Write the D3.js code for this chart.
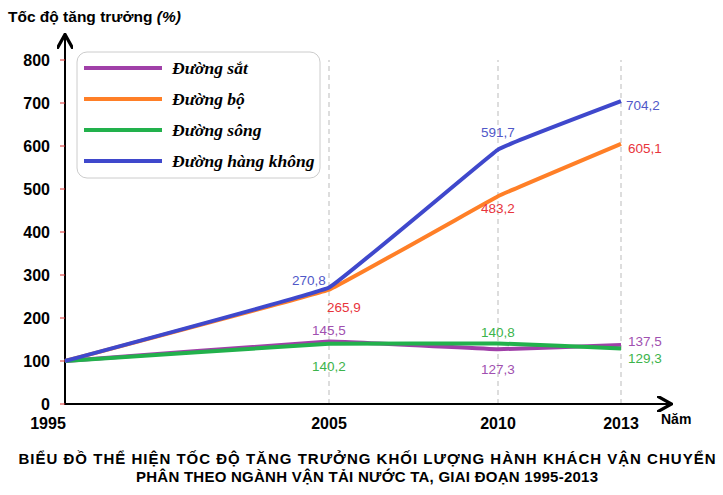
<!DOCTYPE html>
<html><head><meta charset="utf-8">
<script src="https://cdn.jsdelivr.net/npm/d3@7"></script>
<style>body{margin:0;background:#fff}svg{font-family:Arial,"Liberation Sans",sans-serif}</style>
</head><body><svg width="723" height="495"></svg>
<script>
years = [1995, 2005, 2010, 2013]
duongSat = [100, 145.5, 127.3, 137.5]
duongBo = [100, 265.9, 483.2, 605.1]
duongSong = [100, 140.2, 140.8, 129.3]
hangKhong = [100, 270.8, 591.7, 704.2]
yTicks = [0, 100, 200, 300, 400, 500, 600, 700, 800]

const svg = d3.select('svg')
const x = d3.scaleLinear().domain(years).range([65, 329, 498, 621])
const y = d3.scaleLinear().domain([0, 800]).range([404, 60])

// dashed year guides
years.slice(1).forEach(yr => {
  svg.append('line').attr('x1', x(yr)).attr('x2', x(yr)).attr('y1', y(0)).attr('y2', y(800))
    .attr('stroke', '#bbb').attr('stroke-dasharray', '5,4')
})

// axes
svg.append('defs').append('marker').attr('id', 'arr').attr('viewBox', '0 0 10 10')
  .attr('refX', 8).attr('refY', 5).attr('markerWidth', 8).attr('markerHeight', 8).attr('orient', 'auto')
  .append('path').attr('d', 'M0,0 L9,5 L0,10').attr('fill', 'none').attr('stroke', '#000').attr('stroke-width', 2)
svg.append('line').attr('x1', 65).attr('x2', 65).attr('y1', 405).attr('y2', 36)
  .attr('stroke', '#000').attr('stroke-width', 2).attr('marker-end', 'url(#arr)')
svg.append('line').attr('x1', 64).attr('x2', 670).attr('y1', 404).attr('y2', 404)
  .attr('stroke', '#000').attr('stroke-width', 2).attr('marker-end', 'url(#arr)')

yTicks.forEach(t => {
  svg.append('line').attr('x1', 60).attr('x2', 65).attr('y1', y(t)).attr('y2', y(t)).attr('stroke', '#d33')
  svg.append('text').attr('x', 50).attr('y', y(t) + 6).attr('text-anchor', 'end')
    .attr('font-size', 16).attr('font-weight', 'bold').text(t)
})
years.forEach(yr => {
  svg.append('text').attr('x', x(yr) - (yr === 1995 ? 17 : 0)).attr('y', 429).attr('text-anchor', 'middle')
    .attr('font-size', 16).attr('font-weight', 'bold').text(yr)
})
svg.append('text').attr('x', 661).attr('y', 424).attr('font-size', 14).attr('font-weight', 'bold').text('Năm')
svg.append('text').attr('x', 8).attr('y', 22).attr('font-size', 15.5).attr('font-weight', 'bold')
  .text('Tốc độ tăng trưởng ').append('tspan').attr('font-style', 'italic').text('(%)')

const series = [
  {name: 'Đường sắt', vals: duongSat, color: '#a040a8', lab: '#a050b0'},
  {name: 'Đường bộ', vals: duongBo, color: '#ff7f27', lab: '#e8343c'},
  {name: 'Đường sông', vals: duongSong, color: '#22b14c', lab: '#3cb44b'},
  {name: 'Đường hàng không', vals: hangKhong, color: '#3f48cc', lab: '#5058c8'}
]
const line = d3.line().x((d, i) => x(years[i])).y(d => y(d)).curve(d3.curveCardinal.tension(0.85))
series.forEach(s => {
  svg.append('path').attr('d', line(s.vals)).attr('fill', 'none')
    .attr('stroke', s.color).attr('stroke-width', 4)
})

// value labels [series, index, dx, dy]
const labs = [[3,1,-20,-8],[1,1,15,17],[0,1,0,-11],[2,1,0,22],[3,2,0,-18],[1,2,0,12],[2,2,0,-11],[0,2,0,20],
  [3,3,22,4],[1,3,24,4],[0,3,24,-4],[2,3,24,10]]
labs.forEach(([si, i, dx, dy]) => {
  const s = series[si]
  svg.append('text').attr('x', x(years[i]) + dx).attr('y', y(s.vals[i]) + dy + 5)
    .attr('text-anchor', 'middle').attr('font-size', 13.5).attr('fill', s.lab)
    .text(d3.format('.1f')(s.vals[i]).replace('.', ','))
})

// legend
svg.append('rect').attr('x', 77).attr('y', 52).attr('width', 243).attr('height', 126).attr('rx', 10)
  .attr('fill', '#fff').attr('stroke', '#ccc')
series.forEach((s, i) => {
  const ly = 68 + i * 31
  svg.append('line').attr('x1', 84).attr('x2', 162).attr('y1', ly).attr('y2', ly)
    .attr('stroke', s.color).attr('stroke-width', 4)
  svg.append('text').attr('x', 172).attr('y', ly + 6).attr('font-family', '"Liberation Serif",serif')
    .attr('font-size', 17.5).attr('font-weight', 'bold').attr('font-style', 'italic').text(s.name)
})

svg.append('text').attr('x', 367).attr('y', 464).attr('text-anchor', 'middle').attr('font-size', 15)
  .attr('font-weight', 'bold').attr('textLength', 697).text('BIỂU ĐỒ THỂ HIỆN TỐC ĐỘ TĂNG TRƯỞNG KHỐI LƯỢNG HÀNH KHÁCH VẬN CHUYỂN')
svg.append('text').attr('x', 367).attr('y', 482).attr('text-anchor', 'middle').attr('font-size', 15)
  .attr('font-weight', 'bold').attr('textLength', 462).text('PHÂN THEO NGÀNH VẬN TẢI NƯỚC TA, GIAI ĐOẠN 1995-2013')
</script></body></html>
